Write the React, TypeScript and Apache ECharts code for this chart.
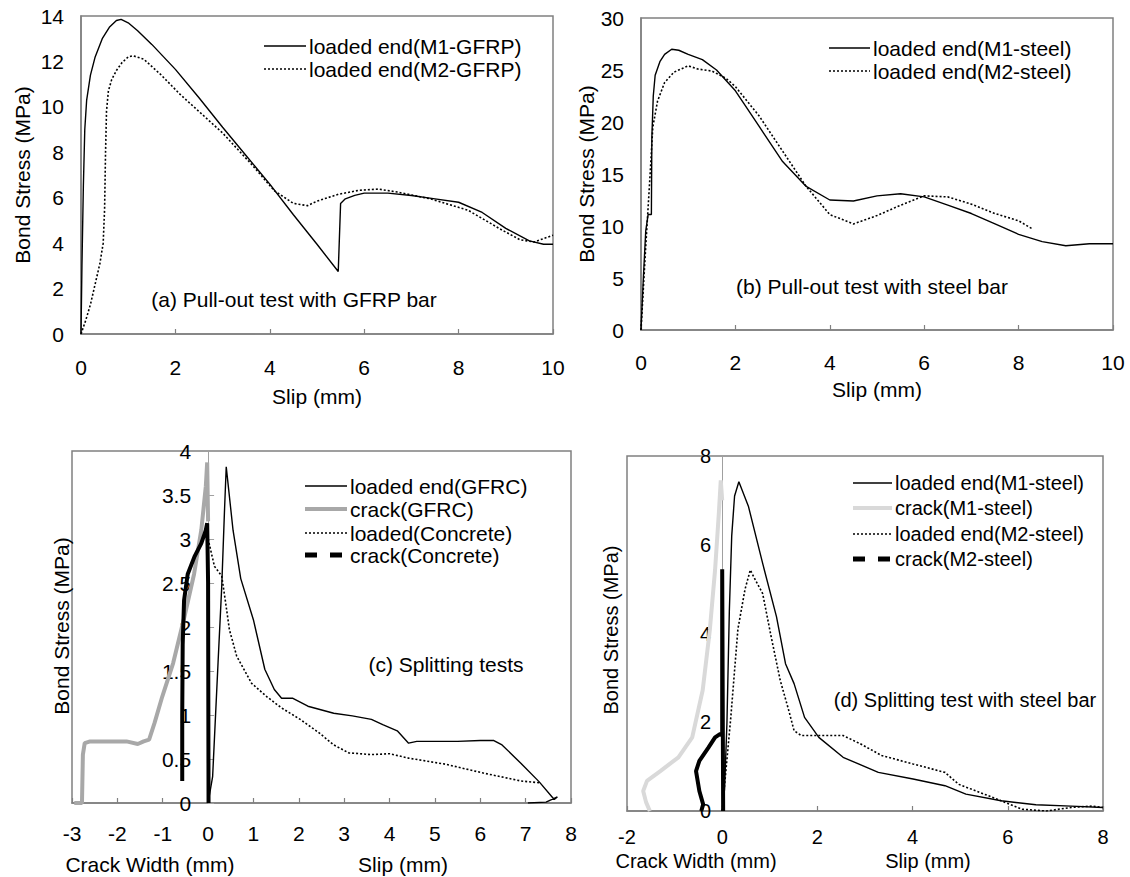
import React, { useEffect, useRef } from "react";
import * as echarts from "echarts";

// ---------- data (a) pull-out test GFRP ----------
const gfrpM1: number[][] = [[0,0],[0.02,3],[0.05,6.5],[0.08,9],[0.12,10.3],[0.2,11.4],[0.3,12.2],[0.45,13.0],[0.6,13.5],[0.75,13.8],[0.85,13.85],[1.0,13.7],[1.2,13.35],[1.5,12.75],[2.0,11.65],[2.5,10.4],[3.0,9.1],[3.5,7.85],[4.0,6.6],[4.5,5.25],[5.0,3.95],[5.45,2.75],[5.5,5.75],[5.6,5.95],[5.8,6.1],[6.0,6.2],[6.5,6.2],[7.0,6.1],[7.5,5.95],[8.0,5.8],[8.5,5.35],[9.0,4.65],[9.5,4.1],[9.8,3.95],[10,3.95]];
const gfrpM2: number[][] = [[0,0],[0.1,0.6],[0.2,1.3],[0.3,2.2],[0.4,3.1],[0.47,4.0],[0.5,5.5],[0.52,8.0],[0.54,9.8],[0.58,10.7],[0.65,11.2],[0.75,11.6],[0.87,11.95],[1.0,12.2],[1.1,12.25],[1.33,12.1],[1.7,11.4],[2.1,10.55],[2.55,9.7],[3.0,8.85],[3.6,7.5],[4.1,6.3],[4.5,5.75],[4.8,5.65],[5.0,5.85],[5.45,6.15],[5.9,6.33],[6.3,6.38],[6.7,6.25],[7.4,5.95],[8.2,5.45],[8.9,4.6],[9.3,4.15],[9.6,4.05],[10,4.35]];

// ---------- data (b) pull-out test steel ----------
const steelM1: number[][] = [[0,0],[0.05,5],[0.1,9.5],[0.15,11.1],[0.22,11.1],[0.23,18.5],[0.26,22.5],[0.3,24.5],[0.4,25.8],[0.5,26.5],[0.65,27.0],[0.8,26.9],[1.0,26.5],[1.3,26.0],[1.6,25.0],[2.0,23.0],[2.5,19.6],[3.0,16.2],[3.5,13.8],[4.0,12.5],[4.5,12.4],[5.0,12.9],[5.5,13.1],[6.0,12.8],[6.5,12.0],[7.0,11.2],[7.5,10.2],[8.0,9.2],[8.5,8.5],[9.0,8.1],[9.5,8.3],[10,8.3]];
const steelM2: number[][] = [[0,0],[0.1,8],[0.2,15.5],[0.25,19.5],[0.35,22],[0.5,23.8],[0.7,24.8],[1.0,25.4],[1.2,25.1],[1.5,24.9],[1.8,24.2],[2.0,23.4],[2.5,20.6],[3.0,17.2],[3.5,13.8],[4.0,11.1],[4.5,10.2],[5.0,11.0],[5.5,12.0],[6.0,12.9],[6.5,12.8],[7.0,12.1],[7.5,11.2],[8.0,10.5],[8.3,9.7]];

// ---------- data (c) splitting tests ----------
const gfrcLoaded: number[][] = [[0,0],[0.1,0.3],[0.22,1.6],[0.3,2.45],[0.36,3.3],[0.4,3.82],[0.55,3.1],[0.72,2.55],[1.0,2.08],[1.25,1.52],[1.46,1.29],[1.62,1.19],[1.87,1.19],[2.2,1.1],[2.77,1.02],[3.18,0.99],[3.6,0.95],[3.85,0.89],[4.17,0.82],[4.42,0.68],[4.6,0.7],[5.0,0.7],[5.5,0.7],[6.0,0.71],[6.3,0.71],[6.48,0.66],[6.9,0.45],[7.3,0.24],[7.63,0.04],[7.7,0.07],[7.45,0.01],[7.05,0]];
const gfrcCrack: number[][] = [[-2.95,0],[-2.78,0],[-2.76,0.55],[-2.72,0.68],[-2.6,0.7],[-2.2,0.7],[-1.8,0.7],[-1.55,0.67],[-1.42,0.7],[-1.3,0.72],[-1.18,0.91],[-1.01,1.21],[-0.77,1.59],[-0.52,2.12],[-0.31,2.6],[-0.15,3.1],[-0.05,3.6],[-0.02,3.87],[0,3.2]];
const concLoaded: number[][] = [[0,0],[0,1.5],[0,3.0],[0.14,2.69],[0.3,2.58],[0.38,2.3],[0.47,1.97],[0.63,1.67],[0.96,1.36],[1.29,1.21],[1.62,1.08],[2.03,0.95],[2.44,0.8],[2.77,0.66],[3.1,0.57],[3.6,0.55],[4.0,0.56],[4.42,0.51],[5.24,0.44],[6.07,0.34],[6.9,0.25],[7.3,0.23]];
const concCrack: number[][] = [[-0.57,0.25],[-0.57,1.0],[-0.56,1.8],[-0.53,2.3],[-0.45,2.6],[-0.3,2.8],[-0.15,2.95],[-0.05,3.1],[-0.02,3.18],[0,2.5],[0.01,0]];

// ---------- data (d) splitting test steel ----------
const m1Loaded: number[][] = [[0,0],[0.05,0.5],[0.1,2.0],[0.15,4.5],[0.2,6.2],[0.26,7.1],[0.35,7.42],[0.55,6.87],[0.85,5.58],[1.14,4.38],[1.33,3.32],[1.51,2.87],[1.73,2.11],[2.03,1.66],[2.54,1.21],[3.28,0.87],[4.01,0.72],[4.68,0.57],[5.12,0.38],[5.86,0.23],[6.59,0.14],[7.33,0.11],[8,0.08]];
const m1Crack: number[][] = [[-1.52,0],[-1.6,0.2],[-1.66,0.45],[-1.58,0.68],[-1.3,0.9],[-0.92,1.21],[-0.63,1.66],[-0.41,2.72],[-0.26,4.08],[-0.15,5.43],[-0.07,6.72],[-0.03,7.45],[0,7.0]];
const m2Loaded: number[][] = [[0,0],[0.18,2.1],[0.33,4.1],[0.48,5.0],[0.59,5.43],[0.7,5.2],[0.85,4.9],[1.03,3.92],[1.22,2.94],[1.4,2.26],[1.51,1.81],[1.66,1.7],[2.17,1.7],[2.54,1.7],[2.91,1.51],[3.35,1.25],[4.01,1.06],[4.68,0.87],[4.97,0.6],[5.41,0.42],[5.86,0.23],[6.3,0.04],[6.81,0],[7.33,0.08],[7.77,0.11],[8,0.08]];
const m2Crack: number[][] = [[-0.44,0],[-0.4,0.15],[-0.48,0.45],[-0.55,0.9],[-0.48,1.13],[-0.29,1.43],[-0.15,1.66],[-0.04,1.74],[0,1.7],[0,5.45],[0.02,0]];

const legendA = ["loaded end(M1-GFRP)", "loaded end(M2-GFRP)"];
const legendB = ["loaded end(M1-steel)", "loaded end(M2-steel)"];
const legendC = ["loaded end(GFRC)", "crack(GFRC)", "loaded(Concrete)", "crack(Concrete)"];
const legendD = ["loaded end(M1-steel)", "crack(M1-steel)", "loaded end(M2-steel)", "crack(M2-steel)"];
const titles = ["(a) Pull-out test with GFRP bar", "(b) Pull-out test with steel bar", "(c) Splitting tests", "(d) Splitting test with steel bar"];
const yName = "Bond Stress (MPa)";
const slipName = "Slip (mm)";
const crackName = "Crack Width (mm)";

const FONT = "'Liberation Sans', Arial, Helvetica, sans-serif";
const AXC = "#808080";
const SOLID = { color: "#000", width: 1.4, type: "solid" as const };
const DOT = { color: "#000", width: 1.6, type: [2, 2] as number[] };
const GRAYC = { color: "#a8a8a8", width: 4, type: "solid" as const };
const LGRAY = { color: "#d9d9d9", width: 4, type: "solid" as const };
const BLK = { color: "#000", width: 4, type: "solid" as const };
const BLKDASH = { color: "#000", width: 5, type: [12, 13] as number[] };

function line(name: string, data: number[][], idx: number, style: any) {
  return {
    name, type: "line", data, xAxisIndex: idx, yAxisIndex: idx,
    symbol: "none", showSymbol: false, lineStyle: style, silent: true, z: 3,
  };
}

function legendGfx(x1: number, x2: number, ys: number[], names: string[], styles: any[], fs: number) {
  const out: any[] = [];
  ys.forEach((y, i) => {
    const st = styles[i];
    out.push({
      type: "line", shape: { x1, y1: y, x2, y2: y },
      style: { stroke: st.color, lineWidth: st.width, lineDash: Array.isArray(st.type) ? st.type : null },
    });
    out.push({
      type: "text", x: x2 + 3, y,
      style: { text: names[i], fill: "#000", font: `${fs}px ${FONT}`, textAlign: "left", textVerticalAlign: "middle" },
    });
  });
  return out;
}

function txt(x: number, y: number, s: string, fs: number, rot = 0) {
  return {
    type: "text", x, y, rotation: rot,
    style: { text: s, fill: "#000", font: `${fs}px ${FONT}`, textAlign: "center", textVerticalAlign: "middle" },
  };
}

export default function App() {
  const ref = useRef<HTMLDivElement>(null);
  useEffect(() => {
    document.body.style.margin = "0";
    if (!ref.current) return;
    const chart = echarts.init(ref.current, undefined, { renderer: "svg" });
    const axLine = { show: true, onZero: false, lineStyle: { color: AXC, width: 1.5 } };
    const zLine = { show: true, onZero: false, lineStyle: { color: "#a0a0a0", width: 1 } };
    const lab = (fs: number, margin: number) => ({ fontSize: fs, color: "#000", margin, fontFamily: FONT });
    const gridBoxes = [
      { left: 81, top: 16, width: 472, height: 318 },
      { left: 641, top: 18, width: 472, height: 312 },
      { left: 72, top: 451, width: 499, height: 352 },
      { left: 627, top: 456, width: 476, height: 355 },
    ];
    const grids = gridBoxes.map((g) => ({ ...g, show: true, borderColor: AXC, borderWidth: 1.5, backgroundColor: "transparent", containLabel: false }));
    // x pixel offset of value 0 inside grids (c) and (d), from the axis ranges
    const zeroC = (3 / 11) * gridBoxes[2].width;
    const zeroD = (2 / 10) * gridBoxes[3].width;

    const xTick = { show: true, inside: true, length: 5, lineStyle: { color: AXC, width: 1.2 } };
    const nameStyle = (fs: number) => ({ fontSize: fs, color: "#000", fontFamily: FONT });
    const xAxis = [
      { gridIndex: 0, type: "value", min: 0, max: 10, interval: 2, axisLine: axLine, axisTick: xTick, splitLine: { show: false }, axisLabel: lab(21, 23),
        name: slipName, nameLocation: "middle", nameGap: 52, nameTextStyle: nameStyle(21) },
      { gridIndex: 1, type: "value", min: 0, max: 10, interval: 2, axisLine: axLine, axisTick: xTick, splitLine: { show: false }, axisLabel: lab(21, 22),
        name: slipName, nameLocation: "middle", nameGap: 49, nameTextStyle: nameStyle(21) },
      { gridIndex: 2, type: "value", min: -3, max: 8, interval: 1, axisLine: axLine, axisTick: xTick, splitLine: { show: false }, axisLabel: lab(21, 20) },
      { gridIndex: 3, type: "value", min: -2, max: 8, interval: 2, axisLine: axLine, axisTick: xTick, splitLine: { show: false }, axisLabel: lab(20, 16) },
    ];
    const yAxis = [
      { gridIndex: 0, type: "value", min: 0, max: 14, interval: 2, axisLine: axLine, axisTick: { show: false }, splitLine: { show: false }, axisLabel: lab(21, 17),
        name: yName, nameLocation: "middle", nameGap: 48, nameTextStyle: nameStyle(21) },
      { gridIndex: 1, type: "value", min: 0, max: 30, interval: 5, axisLine: axLine, axisTick: { show: false }, splitLine: { show: false }, axisLabel: lab(21, 17),
        name: yName, nameLocation: "middle", nameGap: 38, nameTextStyle: nameStyle(21) },
      { gridIndex: 2, type: "value", min: 0, max: 4, interval: 0.5, offset: -zeroC, axisLine: zLine,
        axisTick: { show: true, inside: true, length: 6, lineStyle: { color: "#a0a0a0" } }, splitLine: { show: false }, axisLabel: lab(21, 17) },
      { gridIndex: 3, type: "value", min: 0, max: 8, interval: 2, offset: -zeroD, axisLine: zLine,
        axisTick: { show: false }, splitLine: { show: false }, axisLabel: lab(20, 11) },
    ];

    const series = [
      line(legendA[0], gfrpM1, 0, SOLID),
      line(legendA[1], gfrpM2, 0, DOT),
      line(legendB[0], steelM1, 1, SOLID),
      line(legendB[1], steelM2, 1, DOT),
      line(legendC[1], gfrcCrack, 2, GRAYC),
      line(legendC[2], concLoaded, 2, DOT),
      line(legendC[3], concCrack, 2, BLK),
      line(legendC[0], gfrcLoaded, 2, SOLID),
      line(legendD[1], m1Crack, 3, LGRAY),
      line(legendD[3], m2Crack, 3, BLK),
      line(legendD[2], m2Loaded, 3, DOT),
      line(legendD[0], m1Loaded, 3, SOLID),
    ];

    const graphic = [
      ...legendGfx(264, 306, [46, 69], legendA, [SOLID, DOT], 21),
      ...legendGfx(829, 870, [48, 71], legendB, [SOLID, DOT], 21),
      ...legendGfx(305, 347, [486, 509, 533, 555], legendC, [SOLID, GRAYC, DOT, BLKDASH], 21),
      ...legendGfx(853, 892, [483, 508, 534, 559], legendD, [SOLID, LGRAY, DOT, BLKDASH], 20),
      txt(294, 299, titles[0], 21),
      txt(872, 286, titles[1], 21),
      txt(446, 664, titles[2], 21),
      txt(965, 700, titles[3], 20),
      txt(61, 626, yName, 21, Math.PI / 2),
      txt(611, 630, yName, 20, Math.PI / 2),
      txt(150, 864, crackName, 21),
      txt(403, 864, slipName, 21),
      txt(696, 861, crackName, 20),
      txt(928, 861, slipName, 20),
    ];

    chart.setOption({
      animation: false,
      backgroundColor: "#fff",
      textStyle: { fontFamily: FONT },
      grid: grids,
      xAxis,
      yAxis,
      series,
      graphic,
    } as any);
    return () => chart.dispose();
  }, []);
  return <div ref={ref} style={{ width: 1130, height: 877 }} />;
}
